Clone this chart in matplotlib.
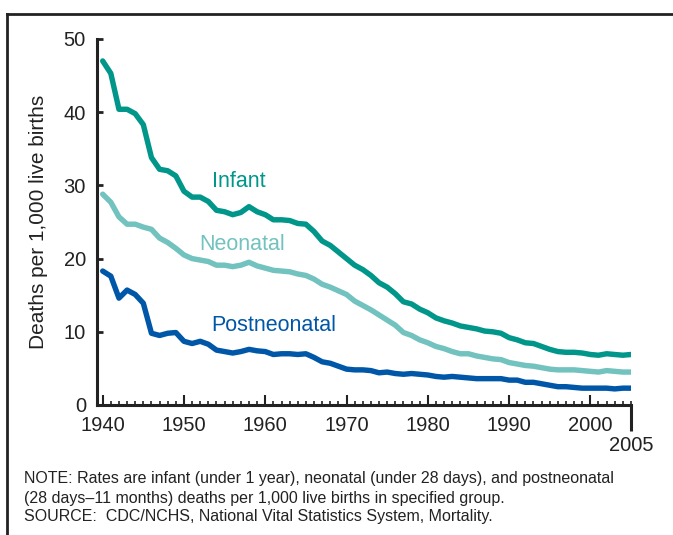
import matplotlib
matplotlib.use("Agg")
import matplotlib.pyplot as plt
from matplotlib.lines import Line2D
import numpy as np

plt.rcParams['font.family'] = ['Liberation Sans', 'DejaVu Sans']

years = list(range(1940, 2006))
infant = [47.0, 45.3, 40.4, 40.4, 39.8, 38.3, 33.8, 32.2, 32.0, 31.3,
          29.2, 28.4, 28.4, 27.8, 26.6, 26.4, 26.0, 26.3, 27.1, 26.4,
          26.0, 25.3, 25.3, 25.2, 24.8, 24.7, 23.7, 22.4, 21.8, 20.9,
          20.0, 19.1, 18.5, 17.7, 16.7, 16.1, 15.2, 14.1, 13.8, 13.1,
          12.6, 11.9, 11.5, 11.2, 10.8, 10.6, 10.4, 10.1, 10.0, 9.8,
          9.2, 8.9, 8.5, 8.4, 8.0, 7.6, 7.3, 7.2, 7.2, 7.1,
          6.9, 6.8, 7.0, 6.9, 6.8, 6.9]
neonatal = [28.8, 27.7, 25.7, 24.7, 24.7, 24.3, 24.0, 22.8, 22.2, 21.4,
            20.5, 20.0, 19.8, 19.6, 19.1, 19.1, 18.9, 19.1, 19.5, 19.0,
            18.7, 18.4, 18.3, 18.2, 17.9, 17.7, 17.2, 16.5, 16.1, 15.6,
            15.1, 14.2, 13.6, 13.0, 12.3, 11.6, 10.9, 9.9, 9.5, 8.9,
            8.5, 8.0, 7.7, 7.3, 7.0, 7.0, 6.7, 6.5, 6.3, 6.2,
            5.8, 5.6, 5.4, 5.3, 5.1, 4.9, 4.8, 4.8, 4.8, 4.7,
            4.6, 4.5, 4.7, 4.6, 4.5, 4.5]
postneonatal = [18.3, 17.6, 14.6, 15.7, 15.1, 13.9, 9.8, 9.5, 9.8, 9.9,
                8.7, 8.4, 8.7, 8.3, 7.5, 7.3, 7.1, 7.3, 7.6, 7.4,
                7.3, 6.9, 7.0, 7.0, 6.9, 7.0, 6.5, 5.9, 5.7, 5.3,
                4.9, 4.8, 4.8, 4.7, 4.4, 4.5, 4.3, 4.2, 4.3, 4.2,
                4.1, 3.9, 3.8, 3.9, 3.8, 3.7, 3.6, 3.6, 3.6, 3.6,
                3.4, 3.4, 3.1, 3.1, 2.9, 2.7, 2.5, 2.5, 2.4, 2.3,
                2.3, 2.3, 2.3, 2.2, 2.3, 2.3]

series_names = ["Infant", "Neonatal", "Postneonatal"]
colors = ["#00968a", "#72c2bf", "#0057a8"]
label_pos = [(1953.4, 30.5), (1951.9, 21.9), (1953.4, 10.8)]

xticks = [1940, 1950, 1960, 1970, 1980, 1990, 2000]
yticks = [0, 10, 20, 30, 40, 50]

fig = plt.figure(figsize=(6.73, 5.35), dpi=100)
ax = fig.add_axes([97/673, 1 - 405/535, (631-97)/673, (405-39)/535])

for vals, c in zip([infant, neonatal, postneonatal], colors):
    ax.plot(years, vals, color=c, lw=3.9, solid_capstyle='round', solid_joinstyle='round')

for name, c, (x, y) in zip(series_names, colors, label_pos):
    ax.text(x, y, name, color=c, fontsize=15.5, ha='left', va='center')

ax.set_xlim(1939.3, 2005)
ax.set_ylim(0, 50)
for s in ['top', 'right']:
    ax.spines[s].set_visible(False)
for s in ['left', 'bottom']:
    ax.spines[s].set_linewidth(2.2)
    ax.spines[s].set_color('#222222')

ax.set_xticks(xticks)
ax.set_xticklabels([str(t) for t in xticks])
ax.set_xticks(years, minor=True)
ax.set_yticks(yticks)
ax.tick_params(axis='x', which='major', direction='in', length=7, width=1.5, labelsize=14.5, pad=8, color='#222222', labelcolor='#222222')
ax.tick_params(axis='x', which='minor', direction='in', length=3, width=1.2, color='#222222')
ax.tick_params(axis='y', which='major', direction='in', length=4.5, width=2, labelsize=14.5, pad=8, color='#222222', labelcolor='#222222')
ax.set_ylabel("Deaths per 1,000 live births", fontsize=15, labelpad=11, color='#222222')

sec = ax.secondary_xaxis('bottom')
sec.set_xticks([2005])
sec.set_xticklabels(['2005'])
sec.tick_params(direction='out', length=19, width=2.2, labelsize=14.5, pad=3.5, color='#222222', labelcolor='#222222')
sec.spines['bottom'].set_visible(False)

# frame lines
fig.add_artist(Line2D([7/673, 7/673], [0, 1 - 14/535], transform=fig.transFigure, color='#222222', lw=2))
fig.add_artist(Line2D([7/673, 1], [1 - 14/535, 1 - 14/535], transform=fig.transFigure, color='#222222', lw=2))

notes = ["NOTE: Rates are infant (under 1 year), neonatal (under 28 days), and postneonatal",
         "(28 days\u201311 months) deaths per 1,000 live births in specified group.",
         "SOURCE:  CDC/NCHS, National Vital Statistics System, Mortality."]
for i, t in enumerate(notes):
    fig.text(24/673, 1 - (479 + 19*i)/535, t, fontsize=11.5, ha='left', va='center', color='#222222')

fig.savefig("out.png", dpi=100)
